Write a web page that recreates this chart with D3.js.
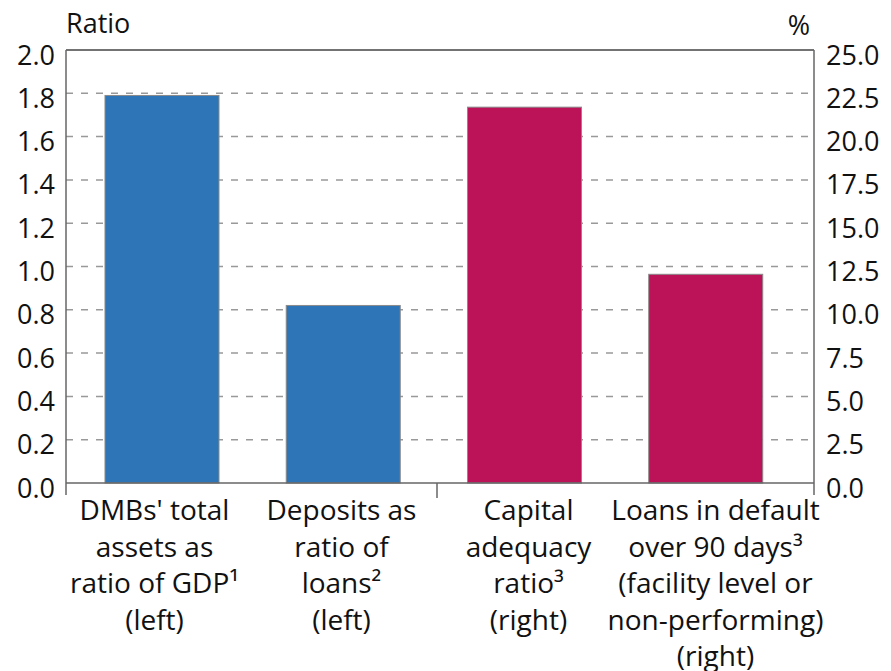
<!DOCTYPE html>
<html>
<head>
<meta charset="utf-8">
<script src="https://cdn.jsdelivr.net/npm/d3@7"></script>
<style>
  body { margin: 0; background: #fff; }
  svg text { font-family: "Open Sans", sans-serif; fill: #111; }
</style>
</head>
<body>
<svg id="chart" width="891" height="671"></svg>
<script>
// categories and values
var categories = ["assets", "deposits", "capital", "default"];
var categoryLabels = [
  ["DMBs' total", "assets as", "ratio of GDP\u00b9", "(left)"],
  ["Deposits as", "ratio of", "loans\u00b2", "(left)"],
  ["Capital", "adequacy", "ratio\u00b3", "(right)"],
  ["Loans in default", "over 90 days\u00b3", "(facility level or", "non-performing)", "(right)"]
];
var leftValues = [1.79, 0.82];      // ratio, left axis
var rightValues = [21.7, 12.05];    // per cent, right axis
var leftTicks = [0, 0.2, 0.4, 0.6, 0.8, 1.0, 1.2, 1.4, 1.6, 1.8, 2.0];
var rightTicks = [0, 2.5, 5, 7.5, 10, 12.5, 15, 17.5, 20, 22.5, 25];

var m = {left: 66, right: 814, top: 50, bottom: 483};
var svg = d3.select("#chart");

var x = d3.scaleBand()
  .domain(categories)
  .range([m.left, m.right])
  .paddingInner(0.371)
  .paddingOuter(0.249)
  .align(0.432);

// label positions
var xl = d3.scaleBand().domain(categories).range([61, 809]);

var yL = d3.scaleLinear().domain([0, 2]).range([m.bottom, m.top]);
var yR = d3.scaleLinear().domain([0, 25]).range([m.bottom, m.top]);

var bars = [
  {cat: categories[0], v: leftValues[0], axis: "L"},
  {cat: categories[1], v: leftValues[1], axis: "L"},
  {cat: categories[2], v: rightValues[0], axis: "R"},
  {cat: categories[3], v: rightValues[1], axis: "R"}
];

// dashed gridlines
svg.append("g")
  .attr("class", "grid")
  .selectAll("line")
  .data(leftTicks.filter(function(d){ return d > 0 && d < 2; }))
  .enter()
  .append("line")
  .attr("x1", m.left).attr("x2", m.right)
  .attr("y1", function(d){ return yL(d); })
  .attr("y2", function(d){ return yL(d); })
  .attr("stroke", "#999")
  .attr("stroke-width", 1.5)
  .attr("stroke-dasharray", "7,8");

// bars
svg.append("g")
  .selectAll("rect")
  .data(bars)
  .enter()
  .append("rect")
  .attr("x", function(d){ return x(d.cat); })
  .attr("width", x.bandwidth())
  .attr("y", function(d){ return d.axis == "L" ? yL(d.v) : yR(d.v); })
  .attr("height", function(d){ return m.bottom - (d.axis == "L" ? yL(d.v) : yR(d.v)); })
  .attr("fill", function(d){ return d.axis == "L" ? "#2e75b8" : "#bb1258"; })
  .attr("stroke", "#8a8a8a")
  .attr("stroke-width", 1);

// frame lines
var frame = svg.append("g").attr("stroke", "#666").attr("stroke-width", 1.5);
frame.append("line").attr("x1", m.left).attr("x2", m.right).attr("y1", m.top).attr("y2", m.top).attr("stroke", "#444");
frame.append("line").attr("x1", m.left).attr("x2", m.right).attr("y1", m.bottom).attr("y2", m.bottom);
frame.append("line").attr("x1", m.left).attr("x2", m.left).attr("y1", m.top).attr("y2", 495);
frame.append("line").attr("x1", m.right).attr("x2", m.right).attr("y1", m.top).attr("y2", 495);
frame.append("line").attr("x1", 437).attr("x2", 437).attr("y1", m.bottom).attr("y2", 498);

// left tick labels
svg.append("g")
  .selectAll("text")
  .data(leftTicks)
  .enter()
  .append("text")
  .attr("x", 55)
  .attr("y", function(d){ return yL(d) + 14.5; })
  .attr("text-anchor", "end")
  .attr("font-size", 27)
  .text(function(d){ return d3.format(".1f")(d); });

// right tick labels
svg.append("g")
  .selectAll("text")
  .data(rightTicks)
  .enter()
  .append("text")
  .attr("x", 826)
  .attr("y", function(d){ return yR(d) + 14.5; })
  .attr("text-anchor", "start")
  .attr("font-size", 27)
  .text(function(d){ return d3.format(".1f")(d); });

svg.append("text").attr("x", 66).attr("y", 33).attr("font-size", 27).text("Ratio");
svg.append("text").attr("x", 810).attr("y", 35).attr("font-size", 27).attr("text-anchor", "end").text("%");

// category labels
svg.append("g")
  .selectAll("text")
  .data(categories)
  .enter()
  .append("text")
  .attr("text-anchor", "middle")
  .attr("font-size", 28)
  .each(function(d, i){
    var t = d3.select(this);
    categoryLabels[i].forEach(function(line, j){
      t.append("tspan")
        .attr("x", xl(d) + xl.bandwidth() / 2)
        .attr("y", 520 + j * 36.5)
        .text(line);
    });
  });
</script>
</body>
</html>
